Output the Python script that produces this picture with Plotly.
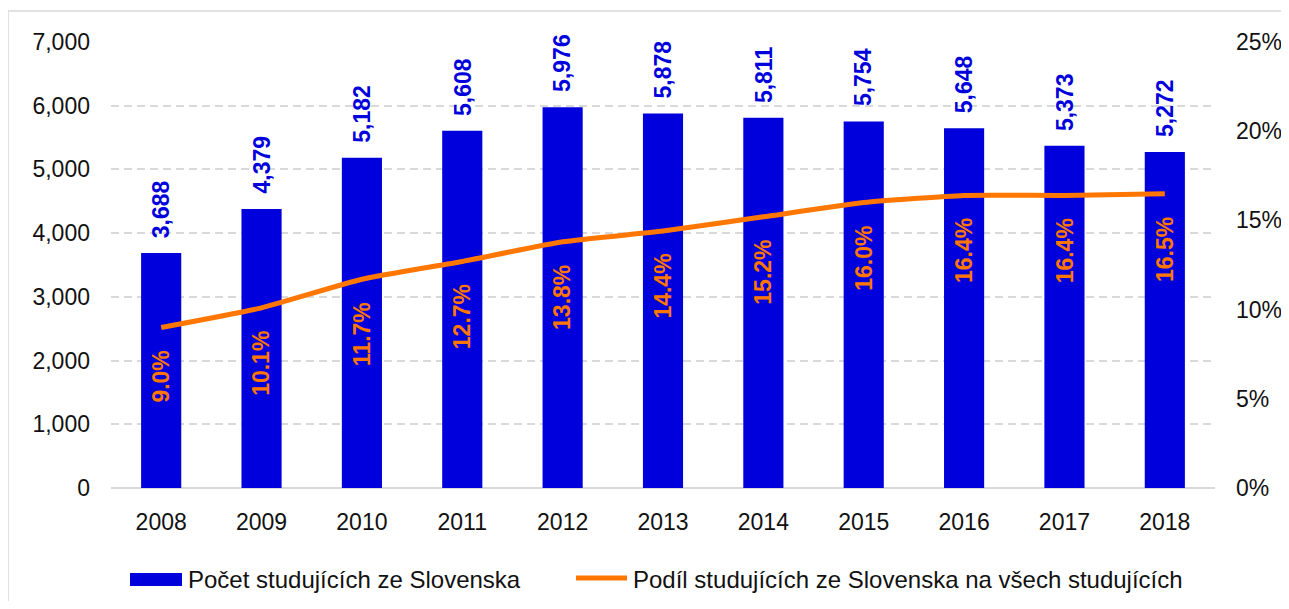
import plotly.graph_objects as go

years = ["2008", "2009", "2010", "2011", "2012", "2013", "2014", "2015", "2016", "2017", "2018"]
counts = [3688, 4379, 5182, 5608, 5976, 5878, 5811, 5754, 5648, 5373, 5272]
shares = [9.0, 10.1, 11.7, 12.7, 13.8, 14.4, 15.2, 16.0, 16.4, 16.4, 16.5]

bar_name = "Počet studujících ze Slovenska"
line_name = "Podíl studujících ze Slovenska na všech studujících"

BLUE = "#0000DC"
ORANGE = "#FF7700"
GRID = "#D9D9D9"
TEXT = "#111111"
FONT = "Liberation Sans, Arial, sans-serif"

# the page has an 8px body margin on every side; size the figure to fit inside it
OFF = 8
W, H = 1289 - 2 * OFF, 609 - 2 * OFF
PLOT_X0, PLOT_X1, PLOT_Y0, PLOT_Y1 = 111, 1215, 42, 488  # window pixels
L = PLOT_X0 - OFF
T = PLOT_Y0 - OFF
R = W - L - (PLOT_X1 - PLOT_X0)
B = H - T - (PLOT_Y1 - PLOT_Y0)
pw = W - L - R
ph = H - T - B


def px_x(x):  # window pixel -> paper x
    return (x - OFF - L) / pw


def px_y(y):  # window pixel -> paper y
    return (H - B - (y - OFF)) / ph


fig = go.Figure()
fig.add_trace(go.Bar(
    x=years, y=counts, name=bar_name,
    marker=dict(color=BLUE, line=dict(width=0)),
    yaxis="y", showlegend=False,
))
fig.add_trace(go.Scatter(
    x=years, y=shares, name=line_name, mode="lines",
    line=dict(color=ORANGE, width=5, shape="spline", smoothing=0.5),
    yaxis="y2", showlegend=False,
))

annotations = []
for i, c in enumerate(counts):
    annotations.append(dict(
        x=i, y=c, xref="x", yref="y", text=f"<b>{c:,}</b>",
        textangle=-90, showarrow=False, yanchor="bottom", xanchor="center",
        yshift=13, font=dict(family=FONT, size=23, color=BLUE),
    ))
for i, s in enumerate(shares):
    annotations.append(dict(
        x=i, y=s, xref="x", yref="y2", text=f"<b>{s:.1f}%</b>",
        textangle=-90, showarrow=False, yanchor="top", xanchor="center",
        yshift=-21, font=dict(family=FONT, size=23, color=ORANGE),
    ))

# legend drawn as shapes + text
legend_y = 579
annotations.append(dict(
    x=px_x(186), y=px_y(legend_y), xref="paper", yref="paper", text=bar_name,
    showarrow=False, xanchor="left", yanchor="middle",
    font=dict(family=FONT, size=24, color=TEXT),
))
annotations.append(dict(
    x=px_x(631), y=px_y(legend_y), xref="paper", yref="paper", text=line_name,
    showarrow=False, xanchor="left", yanchor="middle",
    font=dict(family=FONT, size=24, color=TEXT),
))

shapes = [
    dict(type="rect", xref="paper", yref="paper",
         x0=px_x(8), x1=px_x(1320), y0=px_y(640), y1=px_y(11),
         line=dict(color=GRID, width=1.5), fillcolor="rgba(0,0,0,0)", layer="below"),
    dict(type="rect", xref="paper", yref="paper",
         x0=px_x(130), x1=px_x(182), y0=px_y(586), y1=px_y(573),
         line=dict(width=0), fillcolor=BLUE),
    dict(type="line", xref="paper", yref="paper",
         x0=px_x(576), x1=px_x(627), y0=px_y(578), y1=px_y(578),
         line=dict(color=ORANGE, width=5)),
]

fig.update_layout(
    width=W, height=H,
    margin=dict(l=L, r=R, t=T, b=B),
    paper_bgcolor="white", plot_bgcolor="white",
    font=dict(family=FONT, size=23, color=TEXT),
    bargap=0.6,
    showlegend=False,
    xaxis=dict(
        type="category", range=[-0.5, 10.5], showgrid=False, showline=False, ticks="",
        ticklabelstandoff=18, tickfont=dict(size=23), automargin=False,
    ),
    yaxis=dict(
        range=[0, 7000], dtick=1000, tickformat=",", showgrid=True,
        gridcolor=GRID, griddash="8px,5px", gridwidth=1.5,
        zeroline=True, zerolinecolor=GRID, zerolinewidth=2,
        showline=False, ticks="", ticklabelstandoff=20, tickfont=dict(size=23),
        automargin=False,
    ),
    yaxis2=dict(
        range=[0, 25], dtick=5, ticksuffix="%", overlaying="y", side="right",
        showgrid=False, zeroline=False, showline=False, ticks="",
        ticklabelstandoff=20, tickfont=dict(size=23), automargin=False,
    ),
    annotations=annotations,
    shapes=shapes,
)

fig.write_html("out.html")
